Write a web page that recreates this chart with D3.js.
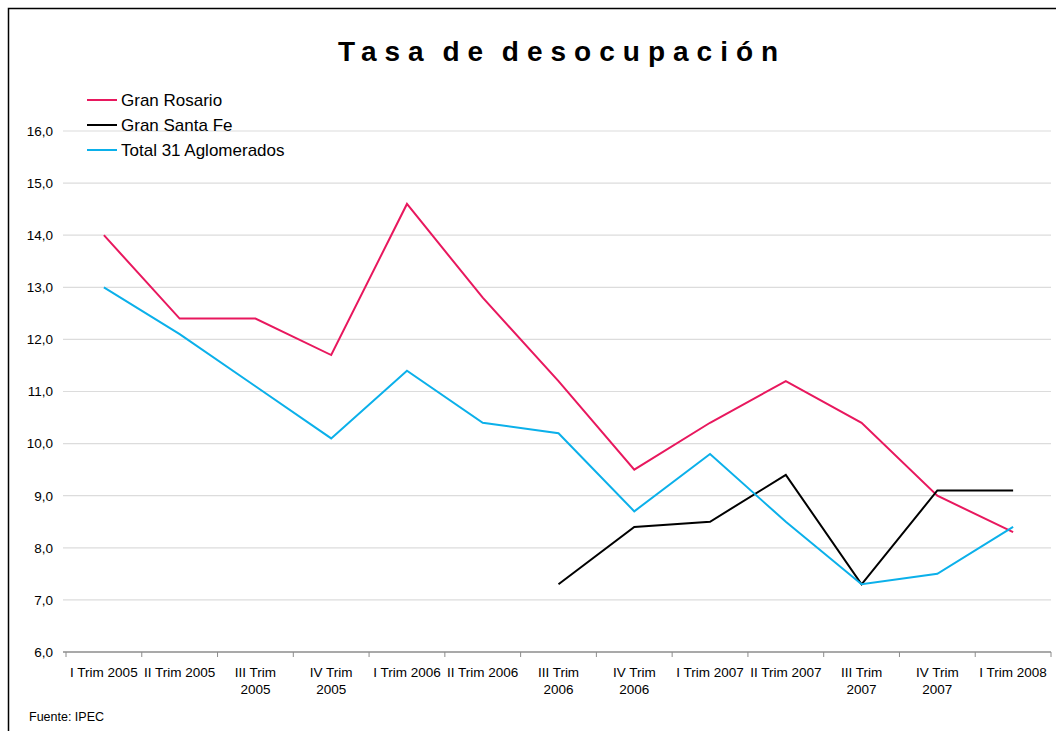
<!DOCTYPE html>
<html>
<head>
<meta charset="utf-8">
<script src="https://cdn.jsdelivr.net/npm/d3@7"></script>
<style>
  body { margin: 0; background: #fff; }
  svg { display: block; font-family: "Liberation Sans", Arial, sans-serif; }
</style>
</head>
<body>
<div id="chart"></div>
<script>
// categories / tick labels
var trimestres = ['I Trim 2005', 'II Trim 2005', 'III Trim\n2005', 'IV Trim\n2005',
                  'I Trim 2006', 'II Trim 2006', 'III Trim\n2006', 'IV Trim\n2006',
                  'I Trim 2007', 'II Trim 2007', 'III Trim\n2007', 'IV Trim\n2007',
                  'I Trim 2008'];

var granRosario = [14.0, 12.4, 12.4, 11.7, 14.6, 12.8, 11.2, 9.5, 10.4, 11.2, 10.4, 9.0, 8.3];
var granSantaFe = [null, null, null, null, null, null, 7.3, 8.4, 8.5, 9.4, 7.3, 9.1, 9.1];
var total31     = [13.0, 12.1, 11.1, 10.1, 11.4, 10.4, 10.2, 8.7, 9.8, 8.5, 7.3, 7.5, 8.4];

var yTicks = [6, 7, 8, 9, 10, 11, 12, 13, 14, 15, 16];

var series = [
  { name: 'Gran Rosario',          values: granRosario, color: '#E8185E' },
  { name: 'Gran Santa Fe',         values: granSantaFe, color: '#000000' },
  { name: 'Total 31 Aglomerados',  values: total31,     color: '#0BB0EA' }
];

var w = 1056, h = 731;
var plotL = 66, plotR = 1051, plotT = 131, plotB = 652;

var svg = d3.select('#chart').append('svg')
            .attr('width', w)
            .attr('height', h);

// frame
svg.append('rect')
   .attr('x', 8.5).attr('y', 8.5)
   .attr('width', 1060).attr('height', 740)
   .attr('fill', 'none')
   .attr('stroke', '#000')
   .attr('stroke-width', 1.5);

var x = d3.scaleBand()
          .domain(trimestres)
          .range([plotL, plotR]);

var y = d3.scaleLinear()
          .domain([6, 16])
          .range([plotB, plotT]);

// gridlines
svg.append('g')
   .selectAll('line')
   .data(yTicks.filter(function(d) { return d > 6 }))
   .enter()
   .append('line')
   .attr('x1', plotL - 3).attr('x2', plotR)
   .attr('y1', function(d) { return y(d) }).attr('y2', function(d) { return y(d) })
   .attr('stroke', '#dcdcdc')
   .attr('stroke-width', 1.2);

// y axis labels
var yAxis = d3.axisLeft(y)
              .tickValues(yTicks)
              .tickSize(0)
              .tickPadding(12)
              .tickFormat(function(d) { return d3.format('.1f')(d).replace('.', ',') });

var yG = svg.append('g')
            .attr('transform', 'translate(' + (plotL - 1) + ',0)')
            .call(yAxis);
yG.select('.domain').remove();
yG.selectAll('text')
  .style('font-size', '13.5px')
  .attr('fill', '#000');

// x axis
var xAxis = d3.axisBottom(x).tickSize(0).tickFormat('');
var xG = svg.append('g')
            .attr('transform', 'translate(0,' + plotB + ')')
            .call(xAxis);
xG.select('.domain')
  .attr('stroke', '#8c8c8c')
  .attr('stroke-width', 1.5)
  .attr('d', 'M' + (plotL - 3) + ',0H' + plotR);

// tick marks at category boundaries
xG.selectAll('.bound')
  .data(trimestres.concat(['end']))
  .enter()
  .append('line')
  .attr('class', 'bound')
  .attr('x1', function(d, i) { return plotL + i * x.bandwidth() })
  .attr('x2', function(d, i) { return plotL + i * x.bandwidth() })
  .attr('y1', 0).attr('y2', 5)
  .attr('stroke', '#8c8c8c');

xG.selectAll('.lbl')
  .data(trimestres)
  .enter()
  .append('text')
  .attr('class', 'lbl')
  .attr('text-anchor', 'middle')
  .attr('x', function(d) { return x(d) + x.bandwidth() / 2 })
  .attr('y', 25)
  .style('font-size', '13.5px')
  .attr('fill', '#000')
  .each(function(d) {
    var parts = d.split('\n');
    var t = d3.select(this);
    parts.forEach(function(p, i) {
      t.append('tspan')
       .attr('x', t.attr('x'))
       .attr('dy', i == 0 ? 0 : 17)
       .text(p);
    });
  });

// lines
var line = d3.line()
             .defined(function(d) { return d != null })
             .x(function(d, i) { return x(trimestres[i]) + x.bandwidth() / 2 })
             .y(function(d) { return y(d) });

svg.append('g')
   .selectAll('path')
   .data(series)
   .enter()
   .append('path')
   .attr('d', function(d) { return line(d.values) })
   .attr('fill', 'none')
   .attr('stroke', function(d) { return d.color })
   .attr('stroke-width', 2)
   .attr('stroke-linejoin', 'miter');

// title
svg.append('text')
   .attr('x', 562)
   .attr('y', 61)
   .attr('text-anchor', 'middle')
   .style('font-size', '28px')
   .style('font-weight', 'bold')
   .style('letter-spacing', '8px')
   .style('word-spacing', '-5px')
   .text('Tasa de desocupación');

// legend
var legend = svg.append('g')
                .selectAll('g')
                .data(series)
                .enter()
                .append('g')
                .attr('transform', function(d, i) { return 'translate(87,' + (100 + i * 25) + ')' });

legend.append('line')
      .attr('x1', 0).attr('x2', 30)
      .attr('stroke', function(d) { return d.color })
      .attr('stroke-width', 2);

legend.append('text')
      .attr('x', 34)
      .attr('y', 6)
      .style('font-size', '17px')
      .text(function(d) { return d.name });

// source
svg.append('text')
   .attr('x', 29)
   .attr('y', 721)
   .style('font-size', '12.5px')
   .text('Fuente: IPEC');
</script>
</body>
</html>
